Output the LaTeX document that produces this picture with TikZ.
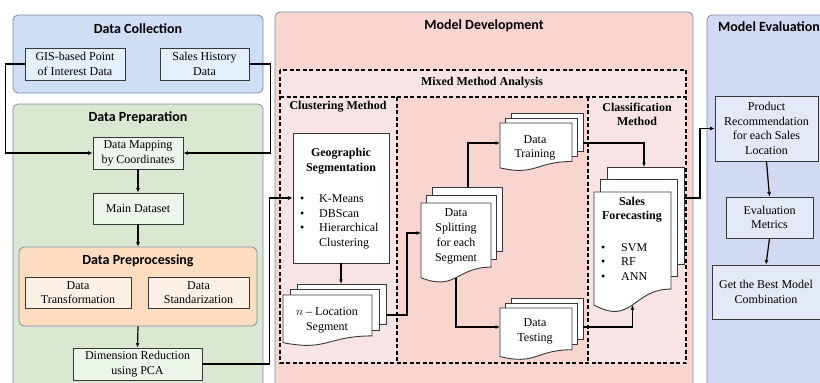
\documentclass[tikz,border=0pt]{standalone}
\usepackage{fontspec}
\setmainfont{Liberation Serif}
\newfontfamily\ttlfont{Carlito}
\usetikzlibrary{arrows.meta,calc}
\definecolor{dcfill}{RGB}{206,222,245}
\definecolor{dcin}{RGB}{228,239,252}
\definecolor{dpfill}{RGB}{218,232,210}
\definecolor{dpin}{RGB}{237,246,234}
\definecolor{ppfill}{RGB}{252,221,191}
\definecolor{ppin}{RGB}{253,240,228}
\definecolor{mdfill}{RGB}{248,213,206}
\definecolor{mixfill}{RGB}{248,228,228}
\definecolor{mefill}{RGB}{210,217,242}
\definecolor{mein}{RGB}{228,233,247}
\definecolor{pborder}{RGB}{128,140,165}
\definecolor{nborder}{RGB}{55,55,55}
\tikzset{
  panel/.style={rounded corners=5pt, line width=0.8pt, draw=pborder},
  box/.style={draw=nborder, line width=0.9pt, align=center, inner sep=0pt,
    font=\fontsize{12}{14.7}\selectfont},
  txt/.style={align=center, inner sep=0pt, font=\fontsize{12}{14.7}\selectfont},
  ttlf/.style={inner sep=0pt, font=\ttlfont\bfseries\fontsize{14}{16}\selectfont},
  btitle/.style={align=center, inner sep=0pt, font=\bfseries\fontsize{12}{14.5}\selectfont},
  arr/.style={-{Latex[length=4.5pt,width=4pt]}, line width=1.2pt},
  dbox/.style={dash pattern=on 4pt off 2.5pt, line width=1.3pt},
  docline/.style={draw=nborder, fill=white, line width=0.9pt}
}
% multi-document: name, x1, y1, x2, h, dx, dy
\newcommand\mdoc[7]{%
  \pgfmathsetmacro\MDyr{#3+0.802*#5}%
  \pgfmathsetmacro\MDyl{#3+0.934*#5}%
  \pgfmathsetmacro\MDyc{#3+1.1075*#5}%
  \pgfmathsetmacro\MDxm{(#2+#4)/2}%
  \draw[docline] ({#2+2*#6},{#3-2*#7}) rectangle ({#4+2*#6},{\MDyr-2*#7});
  \draw[docline] ({#2+#6},{#3-#7}) rectangle ({#4+#6},{\MDyr-#7});
  \draw[docline] (#2,#3) -- (#4,#3) -- (#4,\MDyr) .. controls (\MDxm,\MDyr) and (\MDxm,\MDyc) .. (#2,\MDyl) -- cycle;
  \coordinate (#1-tl2) at ({#2+2*#6},{#3-2*#7});
  \coordinate (#1-tr2) at ({#4+2*#6},{#3-2*#7});
  \coordinate (#1-fl) at (#2,#3);
}
\begin{document}
\begin{tikzpicture}[x=1pt,y=-1pt]
\useasboundingbox (0,0) rectangle (820,383);
\clip (0,0) rectangle (820,383);
\fill[white] (0,0) rectangle (820,383);
% ---------- panels
\draw[panel, fill=dcfill] (13,15) rectangle (263,93);
\node[ttlf] (dct) at (138,29) {Data Collection};
\draw[panel, fill=dpfill] (13,104) rectangle (263,400);
\node[ttlf] (dpt) at (138,118) {Data Preparation};
\node[panel, fill=ppfill, minimum width=238pt, minimum height=79pt, inner sep=0pt] (prep) at (138,286.5) {};
\node[ttlf] (ppt) at (138,261) {Data Preprocessing};
\draw[panel, fill=mdfill] (275,12) rectangle (693,400);
\node[ttlf] (mdt) at (484,26) {Model Development};
\draw[panel, fill=mefill] (707,15) rectangle (840,400);
\node[ttlf, anchor=west] (met) at (718,27) {Model Evaluation};
% ---------- dashed analysis boxes
\fill[mixfill] (280,70) rectangle (686,97);
\fill[mixfill] (280,97) rectangle (397,363);
\fill[mixfill] (588,97) rectangle (686,363);
\draw[dbox] (280,70) rectangle (686,363);
\draw[dbox] (280,97) -- (686,97);
\draw[dbox] (397,97) -- (397,363);
\draw[dbox] (588,97) -- (588,363);
\node[btitle] (mixt) at (482,83) {Mixed Method Analysis};
\node[btitle] (clt) at (338,107) {Clustering Method};
\node[btitle] (cst) at (637,114.5) {Classification\\Method};
% ---------- data collection / preparation nodes
\node[box, fill=dcin, minimum width=100pt, minimum height=32pt] (gis) at (75,64) {GIS-based Point\\of Interest Data};
\node[box, fill=dcin, minimum width=89pt, minimum height=32pt] (sales) at (204.5,64) {Sales History\\Data};
\node[box, fill=dpin, minimum width=90pt, minimum height=32pt] (map) at (138,153) {Data Mapping\\by Coordinates};
\node[box, fill=dpin, minimum width=90pt, minimum height=31pt] (main) at (138,208.5) {Main Dataset};
\node[box, fill=ppin, minimum width=106pt, minimum height=31pt] (trans) at (78,292.5) {Data\\Transformation};
\node[box, fill=ppin, minimum width=101pt, minimum height=31pt] (stand) at (198.5,292.5) {Data\\Standarization};
\node[box, fill=dpin, minimum width=129pt, minimum height=32pt] (dim) at (137.5,364) {Dimension Reduction\\using PCA};
% ---------- clustering
\node[box, fill=white, minimum width=96pt, minimum height=130pt] (geo) at (341,198) {};
\node[btitle] (geot) at (341,161) {Geographic\\Segmentation};
\node[txt, anchor=west, align=left] (geol) at (300,221.5) {\begin{tabular}{@{}l@{\hspace{14.8pt}}l@{}}•&K-Means\\•&DBScan\\•&Hierarchical\\&Clustering\end{tabular}};
\mdoc{nloc}{283}{295}{372}{51}{7}{5.5}
\node[txt] (nloct) at (327,320) {$n$ -- Location\\Segment};
% ---------- splitting
\mdoc{split}{421}{203}{491}{80}{5.5}{8}
\node[txt, font=\fontsize{12}{15}\selectfont] (splitt) at (456,236.5) {Data\\Splitting\\for each\\Segment};
\mdoc{train}{500}{123}{572}{48}{5.5}{5}
\node[txt] (traint) at (535,148) {Data\\Training};
\mdoc{test}{500}{308}{572}{52}{5.5}{5}
\node[txt] (testt) at (535,331.5) {Data\\Testing};
% ---------- classification
\mdoc{sf}{594}{192}{671}{121}{6.5}{12.5}
\node[btitle, font=\bfseries\fontsize{12}{14}\selectfont] (sft) at (632,210) {Sales\\Forecasting};
\node[txt, anchor=west, align=left] (sfl) at (601,263) {\begin{tabular}{@{}l@{\hspace{15.8pt}}l@{}}•&SVM\\•&RF\\•&ANN\end{tabular}};
% ---------- evaluation
\node[box, fill=mein, minimum width=103pt, minimum height=65pt] (prod) at (766.5,128.5) {Product\\Recommendation\\for each Sales\\Location};
\node[box, fill=mein, minimum width=87pt, minimum height=41pt] (eval) at (769.5,217.5) {Evaluation\\Metrics};
\node[box, fill=mein, minimum width=108pt, minimum height=54pt] (best) at (766,292) {Get the Best Model\\Combination};
% ---------- connector ports
\coordinate (nlocE) at (386,315);
\coordinate (splitW) at (421,233);
\coordinate (splitN) at (468,187);
\coordinate (splitS) at (456,277.5);
\coordinate (trainW) at (500,143);
\coordinate (trainE) at (583,143);
\coordinate (testW) at (500,327);
\coordinate (testE) at (583,327);
\coordinate (sfN) at (644,167);
\coordinate (sfS) at (632.5,305);
\coordinate (sfE) at (684,198);
% ---------- connectors
\draw[arr] (gis.west) -- ++(-19,0) |- (map.west);
\draw[arr] (sales.east) -- ++(21,0) |- (map.east);
\draw[arr] (map.south) -- (main.north);
\draw[arr] (main.south) -- (prep.north);
\draw[arr] (prep.south) -- (dim.north);
\draw[arr] (dim.east) -- ++(67,0) |- (geo.west);
\draw[arr] (geo.south) -- (geo.south |- nloc-tl2);
\draw[arr] (nlocE) -- ++(21,0) |- (splitW);
\draw[arr] (splitN) |- (trainW);
\draw[arr] (splitS) |- (testW);
\draw[arr] (trainE) -| (sfN);
\draw[arr] (testE) -| (sfS);
\draw[arr] (sfE) -- ++(16,0) |- (prod.west);
\draw[arr] (prod.south) -- (eval.north);
\draw[arr] (eval.south) -- (best.north);
\end{tikzpicture}
\end{document}
